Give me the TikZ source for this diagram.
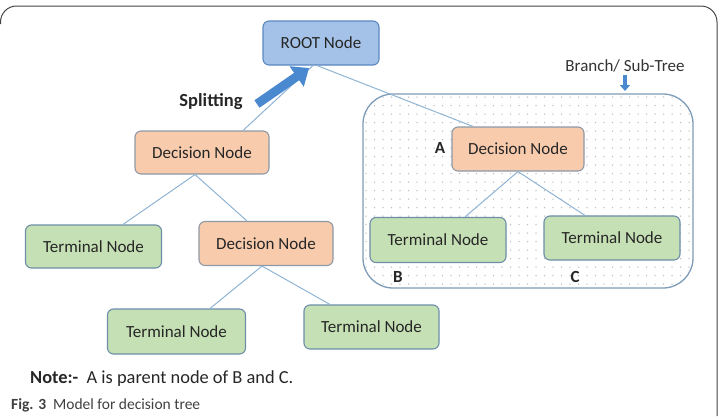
\documentclass[tikz,border=0pt]{standalone}
\usepackage{fontspec}
\setmainfont{Carlito}
\usetikzlibrary{arrows.meta}
\definecolor{rootfill}{HTML}{A4C2E8}
\definecolor{rootline}{HTML}{5A87C0}
\definecolor{decfill}{HTML}{F8CBAD}
\definecolor{decline}{HTML}{8E99A6}
\definecolor{termfill}{HTML}{C5E0B4}
\definecolor{termline}{HTML}{6C8EA8}
\definecolor{linkcol}{HTML}{8FB4D4}
\definecolor{subline}{HTML}{7E9CB8}
\definecolor{dotcol}{HTML}{BDBDBD}
\definecolor{arrowcol}{HTML}{4A89CF}
\definecolor{framecol}{HTML}{444444}
\tikzset{
  box/.style={draw, rounded corners=6pt, line width=1.1pt, inner sep=0pt,
    font=\fontsize{17}{20}\selectfont, text=black!85},
  rootbox/.style={box, fill=rootfill, draw=rootline},
  decbox/.style={box, fill=decfill, draw=decline},
  termbox/.style={box, fill=termfill, draw=termline},
  link/.style={draw=linkcol, line width=1pt},
  letter/.style={font=\bfseries\fontsize{17}{20}\selectfont, text=black!85},
}
\begin{document}
\begin{tikzpicture}[x=1pt, y=-1pt]
\useasboundingbox (0,0) rectangle (721,416);
% outer frame
\draw[framecol, line width=1pt, rounded corners=16pt] (0.5,24) -- (0.5,6) -- (717,6) -- (717,416);
% subtree area
\begin{scope}
  \clip[rounded corners=30pt] (363,94) rectangle (693,288);
  \fill[white] (363,94) rectangle (693,288);
  \foreach \i in {0,...,39} {
    \foreach \j in {0,...,23} {
      \fill[dotcol] (366+\i*8.5, 97+\j*8.5) circle[radius=0.75];
    }
  }
\end{scope}
\draw[subline, line width=1.3pt, rounded corners=30pt] (363,94) rectangle (693,288);
% nodes
\node[rootbox, minimum width=116pt, minimum height=44pt] (root) at (321,43) {ROOT Node};
\node[decbox, minimum width=134pt, minimum height=43pt] (dl) at (202,152.5) {Decision Node};
\node[decbox, minimum width=132pt, minimum height=44pt] (dA) at (518,149) {Decision Node};
\node[termbox, minimum width=136pt, minimum height=45pt] (tB) at (438,240) {Terminal Node};
\node[termbox, minimum width=136pt, minimum height=44pt] (tC) at (612,238) {Terminal Node};
\node[termbox, minimum width=136pt, minimum height=43pt] (tl) at (93.5,246.5) {Terminal Node};
\node[decbox, minimum width=134pt, minimum height=44pt] (dm) at (266,243.5) {Decision Node};
\node[termbox, minimum width=138pt, minimum height=45pt] (tbl) at (176.5,331.5) {Terminal Node};
\node[termbox, minimum width=135pt, minimum height=44pt] (tbr) at (371.5,327) {Terminal Node};
% links
\draw[link] ([xshift=-8pt]root.south) -- ([xshift=41pt]dl.north);
\draw[link] ([xshift=-4pt]root.south) -- ([xshift=-45pt]dA.north);
\draw[link] ([xshift=-7pt]dl.south) -- ([xshift=29.5pt]tl.north);
\draw[link] ([xshift=-7pt]dl.south) -- ([xshift=-19pt]dm.north);
\draw[link] (dA.south) -- ([xshift=27pt]tB.north);
\draw[link] (dA.south) -- ([xshift=-27pt]tC.north);
\draw[link] ([xshift=-4pt]dm.south) -- ([xshift=33.5pt]tbl.north);
\draw[link] ([xshift=-4pt]dm.south) -- ([xshift=-41.5pt]tbr.north);
% splitting arrow
\coordinate (s1) at (257,104);
\coordinate (s2) at (309,68);
\draw[arrowcol, line width=9pt, -{Triangle[length=15pt, width=24pt]}] (s1) -- (s2);
\node[font=\bfseries\fontsize{18.5}{22}\selectfont, text=black!85] (split) at (211,102) {Splitting};
% branch label and arrow
\node[font=\fontsize{17}{20}\selectfont, text=black!80] (branch) at (625,66) {Branch/ Sub-Tree};
\coordinate (b1) at (625,75);
\coordinate (b2) at (625,91);
\draw[arrowcol, line width=4pt, -{Triangle[length=6pt, width=10pt]}] (b1) -- (b2);
% letters
\node[letter] (la) at (440,148) {A};
\node[letter] (lb) at (398,277) {B};
\node[letter] (lc) at (575,277) {C};
% note and caption
\node[anchor=west, inner sep=0pt, font=\fontsize{18.4}{22}\selectfont, text=black!85] (note) at (30,379) {\textbf{Note:-}\ \ A is parent node of B and C.};
\node[anchor=west, inner sep=0pt, font=\fontsize{15.5}{18}\selectfont, text=black!75] (cap) at (11,405) {\textbf{Fig. 3}\ \ Model for decision tree};
\end{tikzpicture}
\end{document}
